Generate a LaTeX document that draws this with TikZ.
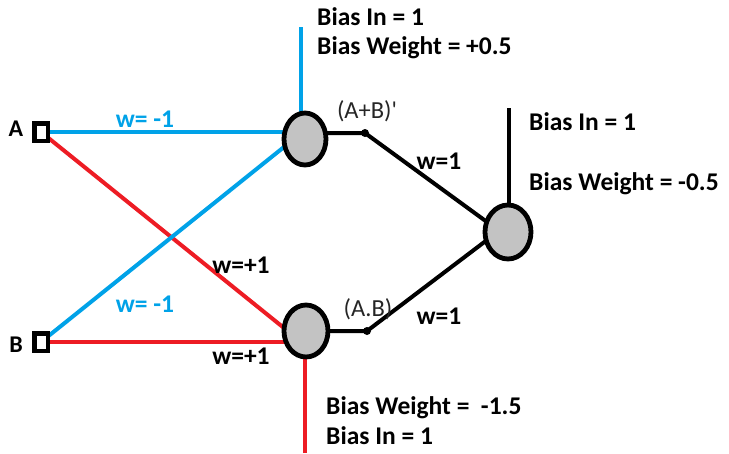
\documentclass[tikz,border=0pt]{standalone}
\usepackage{fontspec}
\setmainfont{Carlito}
\usetikzlibrary{calc,shapes.geometric,backgrounds}
\definecolor{pblue}{RGB}{0,162,232}
\definecolor{pred}{RGB}{237,28,36}
\definecolor{pgray}{RGB}{195,195,195}
\begin{document}
\begin{tikzpicture}[x=1pt,y=-1pt,
  neuron/.style n args={2}{ellipse, draw=black, line width=4.8pt, fill=pgray, inner sep=0pt, outer sep=0pt, minimum width=#1, minimum height=#2},
  inbox/.style={rectangle, draw=black, line width=4.5pt, fill=white, inner sep=0pt, minimum width=13.5pt, minimum height=17.5pt},
  wire/.style={line width=4pt},
  lbl/.style={inner sep=0pt, font=\fontsize{25.5}{30}\selectfont\bfseries},
  biastxt/.style={lbl, anchor=base west},
  gate/.style={inner sep=0pt, font=\fontsize{24.5}{29}\selectfont, text=black!85},
  dotc/.style={circle, fill=black, inner sep=0pt, minimum size=8pt}
]
\useasboundingbox (0,0) rectangle (729,453);

% nodes
\node[inbox] (a) at (41,132) {};
\node[inbox] (b) at (41,342) {};
\node[lbl, font=\fontsize{24}{28}\selectfont\bfseries] (la) at (16,129) {A};
\node[lbl, font=\fontsize{24}{28}\selectfont\bfseries] (lb) at (16,345) {B};
\node[neuron={42pt}{52pt}] (n1) at (305,139) {};
\node[neuron={44pt}{52pt}] (n2) at (306,331) {};
\node[neuron={46pt}{54pt}] (n3) at (508,232) {};
\node[dotc] (d1) at (365,133) {};
\node[dotc] (d2) at (367,331) {};
\coordinate (b1) at (301,27);
\coordinate (b2) at (305,453);
\coordinate (b3) at (509,108);

% connectors
\begin{scope}[on background layer]
  \draw[wire, pblue] (a.center) -- (a.center -| n1.center);
  \draw[wire, pred] (a.center) -- ($(n2.west)+(0,-3)$);
  \draw[wire, pblue] (b.center) -- ($(n1.west)+(0,8)$);
  \draw[wire, pred] (b.center) -- (b.center -| n2.center);
  \draw[wire, pblue] (b1) -- (b1 |- n1.center);
  \draw[wire, pred] (b2) -- (b2 |- n2.center);
  \draw[wire, black] (b3) -- (b3 |- n3.center);
  \draw[wire, black] (d1.center -| n1.center) -- (d1.center) -- ($(n3.west)+(2,-10)$);
  \draw[wire, black] (d2.center -| n2.center) -- (d2.center) -- ($(n3.west)+(2,8)$);
\end{scope}

% labels
\node[lbl, text=pblue] (w1) at (145,119) {w= -1};
\node[lbl, text=pblue] (w2) at (145,304) {w= -1};
\node[lbl] (w3) at (241,265) {w=+1};
\node[lbl] (w4) at (241,356) {w=+1};
\node[lbl] (w5) at (439,161) {w=1};
\node[lbl] (w6) at (439,316) {w=1};
\node[gate] (g1) at (367,111) {(A+B)\textquotesingle};
\node[gate] (g2) at (368,309) {(A.B)};

\node[biastxt] (t1) at (317,25) {Bias In = 1};
\node[biastxt] (t2) at (317,54) {Bias Weight = +0.5};
\node[biastxt] (t3) at (529,130) {Bias In = 1};
\node[biastxt] (t4) at (529,190) {Bias Weight = -0.5};
\node[biastxt] (t5) at (326,414) {Bias Weight = \ -1.5};
\node[biastxt] (t6) at (326,444) {Bias In = 1};
\end{tikzpicture}
\end{document}
